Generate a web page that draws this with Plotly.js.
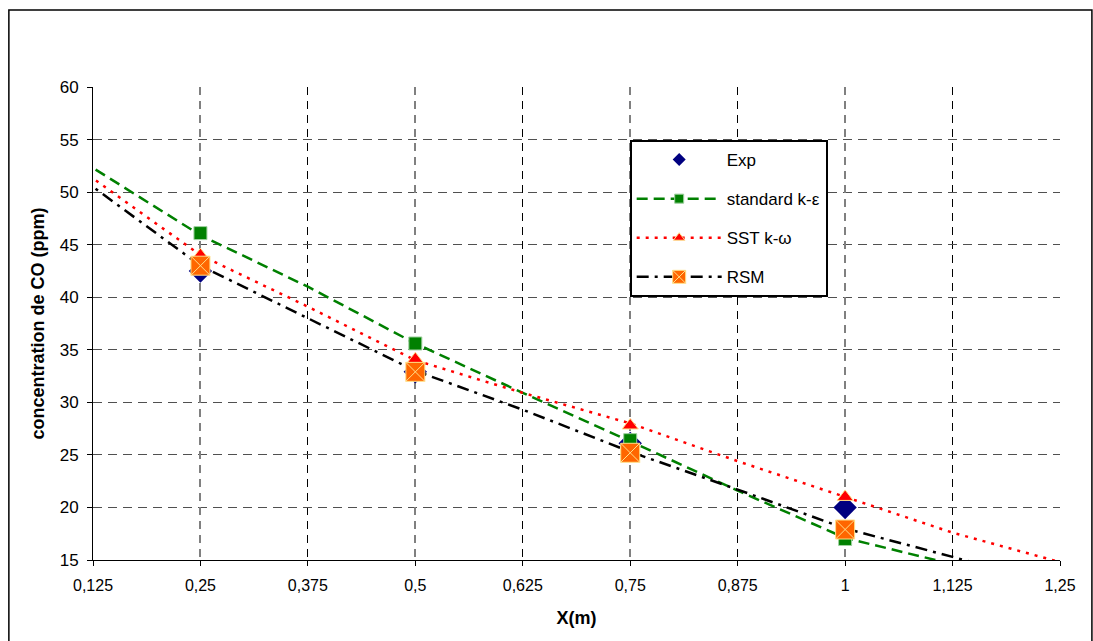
<!DOCTYPE html>
<html>
<head>
<meta charset="utf-8">
<script src="https://cdn.plot.ly/plotly-3.0.1.min.js"></script>
<style>
  html, body { margin: 0; padding: 0; background: #fff; }
  #chart { width: 1093px; height: 641px; }
</style>
</head>
<body>
<div id="chart"></div>
<script>
// ---- data ----
const seriesNames = ['Exp', 'standard k-\u03b5', 'SST k-\u03c9', 'RSM'];
const xPoints = [0.25, 0.5, 0.75, 1];
const expValues = [42.5, 32.9, 26.1, 20.0];
const keValues = [46.1, 35.6, 26.4, 17.0];
const kwValues = [44.0, 34.1, 27.8, 21.0];
const rsmValues = [43.0, 32.9, 25.2, 17.9];

const lineX = [0.11, 0.125, 0.25, 0.375, 0.5, 0.625, 0.75, 0.875, 1, 1.125, 1.25, 1.27];
const keLine = [52.8, 52.3, 45.9, 41.0, 35.6, 30.9, 26.3, 21.6, 17.1, 14.6, 12.5, 12.2];
const kwLine = [51.9, 51.3, 44.0, 39.1, 34.0, 30.9, 28.0, 24.4, 21.0, 17.6, 14.8, 14.4];
const rsmLine = [51.2, 50.5, 43.0, 38.0, 33.0, 29.3, 25.3, 21.7, 18.0, 15.3, 12.5, 12.2];

const xTickVals = [0.125, 0.25, 0.375, 0.5, 0.625, 0.75, 0.875, 1, 1.125, 1.25];
const xTickText = ['0,125', '0,25', '0,375', '0,5', '0,625', '0,75', '0,875', '1', '1,125', '1,25'];
const xMajorVals = [0.25, 0.5, 0.75, 1, 1.25];
const yTickVals = [15, 20, 25, 30, 35, 40, 45, 50, 55, 60];

const FONT = 'Arial, "Liberation Sans", sans-serif';

// ---- styles ----
const expMarker = { symbol: 'diamond', size: 18, color: '#000080', line: { width: 0 } };
const keMarker = { symbol: 'square', size: 13, color: '#008000', line: { width: 1, color: '#9fd09f' } };
const kwMarker = { symbol: 'triangle-up', size: 14, color: '#FF0000', line: { width: 1, color: '#FFE08A' } };
const rsmMarker = { symbol: 'square-x', size: 19, color: '#FF6600', line: { width: 1, color: '#FFE08A' } };

const keLineStyle = { color: '#008000', width: 2.5, dash: '11px,6px' };
const kwLineStyle = { color: '#FF0000', width: 2.5, dash: '3px,6px' };
const rsmLineStyle = { color: '#000000', width: 2.5, dash: '12px,6px,3px,6px' };

const traces = [
  { x: xPoints, y: expValues, mode: 'markers', marker: expMarker, showlegend: false },
  { x: lineX, y: keLine, mode: 'lines', line: keLineStyle, showlegend: false },
  { x: xPoints, y: keValues, mode: 'markers', marker: keMarker, showlegend: false },
  { x: lineX, y: kwLine, mode: 'lines', line: kwLineStyle, showlegend: false },
  { x: xPoints, y: kwValues, mode: 'markers', marker: kwMarker, showlegend: false },
  { x: lineX, y: rsmLine, mode: 'lines', line: rsmLineStyle, showlegend: false },
  { x: xPoints, y: rsmValues, mode: 'markers', marker: rsmMarker, showlegend: false, xaxis: 'x2' },
  // legend entries
  { x: [null], y: [null], name: seriesNames[0], mode: 'markers', legendgroup: 'g1',
    marker: Object.assign({}, expMarker, { size: 10 }) },
  { x: [null], y: [null], name: seriesNames[1], mode: 'lines+markers', legendgroup: 'g2',
    line: keLineStyle, marker: Object.assign({}, keMarker, { size: 9 }) },
  { x: [null], y: [null], name: seriesNames[2], mode: 'lines+markers', legendgroup: 'g3',
    line: kwLineStyle, marker: Object.assign({}, kwMarker, { size: 10 }) },
  { x: [null], y: [null], name: seriesNames[3], mode: 'lines+markers', legendgroup: 'g4',
    line: rsmLineStyle, marker: Object.assign({}, rsmMarker, { size: 13 }) }
];

const layout = {
  width: 1093, height: 641,
  margin: { l: 93, r: 33, t: 87, b: 81, pad: 0 },
  paper_bgcolor: '#ffffff',
  plot_bgcolor: '#ffffff',
  font: { family: FONT, size: 17, color: '#000000' },
  showlegend: true,
  xaxis: {
    range: [0.125, 1.25], autorange: false,
    tickmode: 'array', tickvals: xTickVals, ticktext: xTickText,
    showgrid: true, gridcolor: '#000000', gridwidth: 1, griddash: '8px,6px',
    showline: true, linecolor: '#000000', linewidth: 1,
    ticks: 'outside', ticklen: 5, tickcolor: '#000000', tickwidth: 1,
    ticklabelstandoff: 6,
    zeroline: false,
    tickfont: { family: FONT, size: 16, color: '#000000' },
    title: { text: 'X(m)', font: { family: FONT, size: 18, color: '#000000', weight: 'bold' }, standoff: 18 }
  },
  xaxis2: {
    overlaying: 'x', anchor: 'y',
    range: [0.125, 1.25], autorange: false,
    tickmode: 'array', tickvals: xMajorVals,
    showticklabels: false, ticks: '',
    showgrid: true, gridcolor: '#808080', gridwidth: 2, griddash: '8px,6px',
    showline: false, zeroline: false
  },
  yaxis: {
    range: [15, 60], autorange: false,
    tickmode: 'array', tickvals: yTickVals,
    showgrid: true, gridcolor: '#505050', gridwidth: 1, griddash: '9px,6px',
    showline: true, linecolor: '#000000', linewidth: 1,
    ticks: 'outside', ticklen: 5, tickcolor: '#000000', tickwidth: 1,
    ticklabelstandoff: 5,
    zeroline: false,
    tickfont: { family: FONT, size: 17, color: '#000000' },
    title: { text: 'concentration de CO (ppm)', font: { family: FONT, size: 18, color: '#000000', weight: 'bold' }, standoff: 10 }
  },
  legend: {
    x: 0.555, y: 0.888, xanchor: 'left', yanchor: 'top',
    bgcolor: '#ffffff', bordercolor: '#000000', borderwidth: 2,
    font: { family: FONT, size: 17, color: '#000000' },
    traceorder: 'grouped', tracegroupgap: 14,
    itemwidth: 85, itemsizing: 'trace',
    entrywidth: 212, entrywidthmode: 'pixels'
  },
  shapes: [
    { type: 'rect', xref: 'paper', yref: 'paper',
      x0: -0.087, x1: 1.033, y0: -0.2, y1: 1.163,
      line: { color: '#000000', width: 1.5 }, fillcolor: 'rgba(0,0,0,0)', layer: 'below' }
  ]
};

Plotly.newPlot('chart', traces, layout, { displayModeBar: false, staticPlot: true });
</script>
</body>
</html>
